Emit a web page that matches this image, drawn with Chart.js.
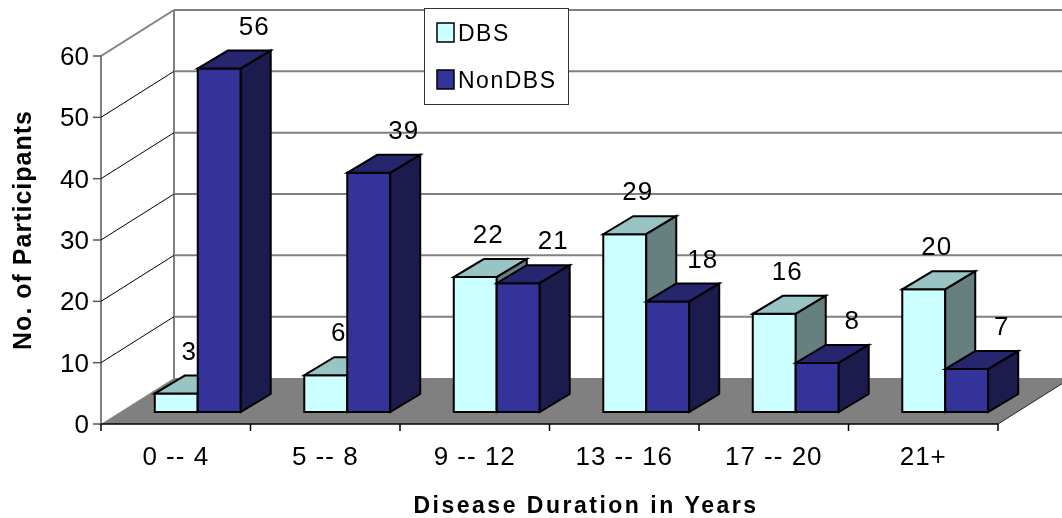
<!DOCTYPE html>
<html lang="en">
<head>
  <meta charset="UTF-8">
  <title>Disease Duration in Years</title>
  <script src="https://cdn.jsdelivr.net/npm/chart.js"></script>
  <style>
    html, body { margin: 0; padding: 0; background: #fff; }
  </style>
</head>
<body>
  <canvas id="viz" width="1062" height="518"></canvas>

  <script>
    // data
    const categories = ['0 -- 4', '5 -- 8', '9 -- 12', '13 -- 16', '17 -- 20', '21+']
    const dbs = [3, 6, 22, 29, 16, 20]
    const nonDbs = [56, 39, 21, 18, 8, 7]
    const yTicks = [0, 10, 20, 30, 40, 50, 60]
    const seriesNames = ['DBS', 'NonDBS']

    // 3D look: bar depth, front plane and back wall offsets (relative to bar plane)
    const DX = 30, DY = -18
    const FX = -22, FY = 12
    const BX = 51, BY = -34
    const FONT = '"Liberation Sans", Arial, sans-serif'

    const faces = [
      { front: '#CCFFFF', top: '#99C4C4', side: '#668080', labelDx: 13 },
      { front: '#333399', top: '#26266F', side: '#1B1B4D', labelDx: 35 }
    ]

    function line(ctx, x1, y1, x2, y2) {
      ctx.beginPath()
      ctx.moveTo(x1, y1)
      ctx.lineTo(x2, y2)
      ctx.stroke()
    }

    function poly(ctx, pts, fill) {
      ctx.beginPath()
      ctx.moveTo(pts[0][0], pts[0][1])
      pts.slice(1).forEach(p => ctx.lineTo(p[0], p[1]))
      ctx.closePath()
      ctx.fillStyle = fill
      ctx.fill()
      ctx.stroke()
    }

    const threeD = {
      id: 'threeD',
      beforeDatasetsDraw(chart) {
        const { ctx, chartArea: a, scales: { x, y } } = chart
        const W = chart.width
        const y0 = y.getPixelForValue(0)
        const yTop = y.getPixelForValue(yTicks[yTicks.length - 1])
        ctx.save()

        // floor
        ctx.fillStyle = '#808080'
        ctx.beginPath()
        ctx.moveTo(a.left + FX, y0 + FY)
        ctx.lineTo(a.right + FX, y0 + FY)
        ctx.lineTo(a.right + BX, y0 + BY)
        ctx.lineTo(a.left + BX, y0 + BY)
        ctx.closePath()
        ctx.fill()
        ctx.strokeStyle = '#222'
        ctx.lineWidth = 1
        line(ctx, a.right + FX, y0 + FY, a.right + BX, y0 + BY)

        // walls + gridlines
        ctx.strokeStyle = '#808080'
        ctx.lineWidth = 2
        line(ctx, a.left + BX, yTop + BY, a.left + BX, y0 + BY)
        line(ctx, a.left + FX, yTop + FY, a.left + FX, y0 + FY)

        ctx.font = '26px ' + FONT
        ctx.textAlign = 'right'
        ctx.textBaseline = 'alphabetic'
        ctx.fillStyle = '#000'
        yTicks.forEach(v => {
          const p = y.getPixelForValue(v)
          if (v > 0) {
            const edge = v === yTicks[yTicks.length - 1]
            ctx.strokeStyle = edge ? '#808080' : '#000'
            ctx.lineWidth = edge ? 2 : 1
            line(ctx, a.left + FX, p + FY, a.left + BX, p + BY)
            ctx.strokeStyle = '#808080'
            ctx.lineWidth = 2
            line(ctx, a.left + BX, p + BY, W, p + BY)
          }
          ctx.strokeStyle = '#555'
          ctx.lineWidth = 1.5
          line(ctx, a.left + FX - 8, p + FY, a.left + FX, p + FY)
          ctx.fillText(String(v), a.left + FX - 12, p + FY + 9)
        })

        // x axis line, ticks and labels on the front plane
        ctx.strokeStyle = '#000'
        ctx.lineWidth = 1.5
        line(ctx, a.left + FX, y0 + FY, a.right + FX, y0 + FY)
        const step = a.width / categories.length
        for (let k = 0; k <= categories.length; k++) {
          const px = a.left + FX + k * step
          line(ctx, px, y0 + FY, px, y0 + FY + 7)
        }
        ctx.textAlign = 'center'
        ctx.letterSpacing = '1px'
        categories.forEach((c, i) => {
          ctx.fillText(c, x.getPixelForValue(i) + FX, y0 + FY + 41)
        })

        // axis titles
        ctx.font = 'bold 23px ' + FONT
        ctx.letterSpacing = '2.5px'
        ctx.fillText('Disease Duration in Years', 586, 513)
        ctx.save()
        ctx.translate(31, (yTop + y0) / 2 + 2)
        ctx.rotate(-Math.PI / 2)
        ctx.font = 'bold 25px ' + FONT
        ctx.letterSpacing = '1px'
        ctx.fillText('No. of Participants', 0, 0)
        ctx.restore()

        ctx.restore()
      },
      beforeDatasetDraw() {
        return false
      },
      afterDatasetsDraw(chart) {
        const { ctx } = chart
        const metas = [chart.getDatasetMeta(0), chart.getDatasetMeta(1)]
        ctx.save()
        ctx.strokeStyle = '#000'
        ctx.lineWidth = 2
        ctx.lineJoin = 'miter'

        categories.forEach((c, i) => {
          metas.forEach((meta, d) => {
            const el = meta.data[i]
            const xl = el.x - el.width / 2
            const xr = el.x + el.width / 2
            const yt = el.y
            const yb = el.base
            const f = faces[d]
            poly(ctx, [[xl, yb], [xr, yb], [xr, yt], [xl, yt]], f.front)
            poly(ctx, [[xl, yt], [xr, yt], [xr + DX, yt + DY], [xl + DX, yt + DY]], f.top)
            poly(ctx, [[xr, yt], [xr + DX, yt + DY], [xr + DX, yb + DY], [xr, yb]], f.side)
          })
        })

        // value labels
        ctx.font = '26px ' + FONT
        ctx.textAlign = 'center'
        ctx.fillStyle = '#000'
        ctx.letterSpacing = '1px'
        metas.forEach((meta, d) => {
          const values = chart.data.datasets[d].data
          meta.data.forEach((el, i) => {
            ctx.fillText(String(values[i]), el.x + faces[d].labelDx, el.y - 43 + 9)
          })
        })

        // legend
        const lx = 424, ly = 8, lw = 144, lh = 96
        ctx.fillStyle = '#fff'
        ctx.fillRect(lx, ly, lw, lh)
        ctx.strokeStyle = '#333'
        ctx.lineWidth = 1
        ctx.strokeRect(lx + 0.5, ly + 0.5, lw, lh)
        ctx.font = '23px ' + FONT
        ctx.letterSpacing = '1.5px'
        ctx.textAlign = 'left'
        seriesNames.forEach((name, d) => {
          const cy = ly + 24 + d * 47
          ctx.fillStyle = faces[d].front
          ctx.fillRect(lx + 13, cy - 9, 17, 19)
          ctx.strokeStyle = '#000'
          ctx.lineWidth = 1.5
          ctx.strokeRect(lx + 13, cy - 9, 17, 19)
          ctx.fillStyle = '#000'
          ctx.fillText(name, lx + 34, cy + 9)
        })
        ctx.restore()
      }
    }

    new Chart(document.getElementById('viz'), {
      type: 'bar',
      data: {
        labels: categories,
        datasets: [
          { label: seriesNames[0], data: dbs, backgroundColor: faces[0].front },
          { label: seriesNames[1], data: nonDbs, backgroundColor: faces[1].front }
        ]
      },
      options: {
        responsive: false,
        animation: false,
        events: [],
        categoryPercentage: 0.575,
        barPercentage: 1,
        layout: { padding: { left: 123, right: 42, top: 44, bottom: 106 } },
        plugins: { legend: { display: false }, tooltip: { enabled: false } },
        scales: {
          x: { display: false },
          y: { display: false, min: 0, max: 60 }
        }
      },
      plugins: [threeD]
    })
  </script>
</body>
</html>
